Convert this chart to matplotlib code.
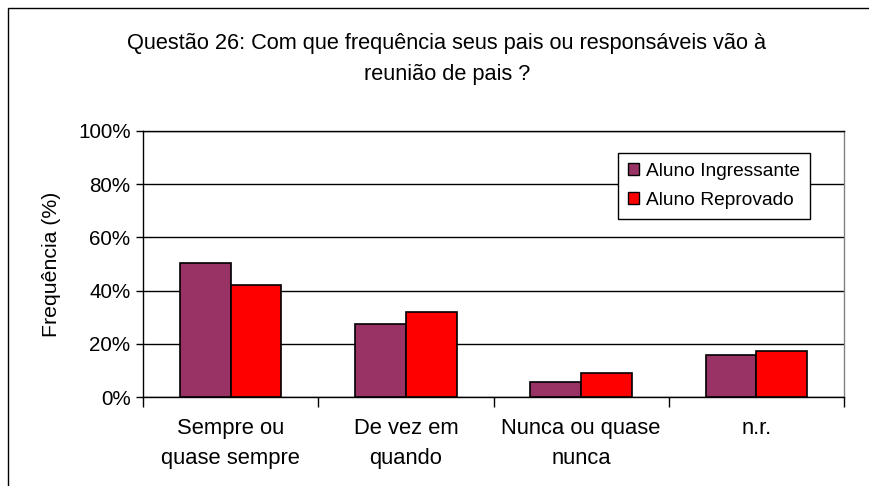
import numpy as np
import matplotlib
matplotlib.use("Agg")
import matplotlib.pyplot as plt
from matplotlib.patches import Patch, Rectangle
from matplotlib.ticker import FixedLocator, PercentFormatter

plt.rcParams["font.family"] = ["Liberation Sans", "DejaVu Sans"]

categories = ["Sempre ou\nquase sempre", "De vez em\nquando", "Nunca ou quase\nnunca", "n.r."]
series_names = ["Aluno Ingressante", "Aluno Reprovado"]
ingressante = [50.2, 27.4, 5.8, 15.9]
reprovado = [42.0, 31.8, 9.0, 17.4]
colors = ["#993366", "#FF0000"]

fig = plt.figure(figsize=(8.69, 4.86), dpi=100)
ax = fig.add_axes([0.1646, 0.183, 0.8066, 0.5475])

# chart-area border (only top and left visible in the original crop)
fig.patches.append(Rectangle((8 / 869, -0.05), 1.0, 1 - 8 / 486 + 0.05,
                             transform=fig.transFigure, fill=False,
                             edgecolor="black", linewidth=1.0))

x = np.arange(len(categories))
w = 0.29
ax.bar(x - w / 2, ingressante, w, color=colors[0], edgecolor="black", linewidth=1.2, zorder=3)
ax.bar(x + w / 2, reprovado, w, color=colors[1], edgecolor="black", linewidth=1.2, zorder=3)

ax.set_xlim(-0.5, len(categories) - 0.5)
ax.set_ylim(0, 100)
ax.set_yticks(np.arange(0, 101, 20))
ax.yaxis.set_major_formatter(PercentFormatter(decimals=0))
ax.yaxis.grid(True, color="black", linewidth=1.0, zorder=0)

# category labels centred, ticks on category boundaries
ax.set_xticks(x)
ax.set_xticklabels(categories, fontsize=15.8, linespacing=1.55)
ax.tick_params(axis="x", which="major", length=0, pad=15)
ax.xaxis.set_minor_locator(FixedLocator(np.arange(-0.5, len(categories), 1.0)))
ax.tick_params(axis="x", which="minor", length=7, width=1, direction="out")
ax.tick_params(axis="y", length=5, width=1, direction="out", labelsize=14.9, pad=4)

for side in ["left", "bottom", "top", "right"]:
    ax.spines[side].set_color("black")
    ax.spines[side].set_linewidth(1.0)
ax.spines["right"].set_color("#808080")

ax.set_ylabel("Frequência (%)", fontsize=15.3, labelpad=12)

fig.text(0.514, 0.879, "Questão 26: Com que frequência seus pais ou responsáveis vão à\nreunião de pais ?",
         ha="center", va="center", fontsize=15.7, linespacing=1.65)

handles = [Patch(facecolor=c, edgecolor="black", linewidth=1.0) for c in colors]
leg = ax.legend(handles, series_names, loc="upper right", bbox_to_anchor=(0.951, 0.917),
                bbox_transform=ax.transAxes, borderaxespad=0, fontsize=13.8,
                handlelength=0.6, handleheight=0.6, handletextpad=0.35,
                labelspacing=0.65, borderpad=0.5, fancybox=False, framealpha=1)
leg.get_frame().set_edgecolor("black")
leg.get_frame().set_linewidth(1.0)

fig.savefig("out.png", dpi=100)
